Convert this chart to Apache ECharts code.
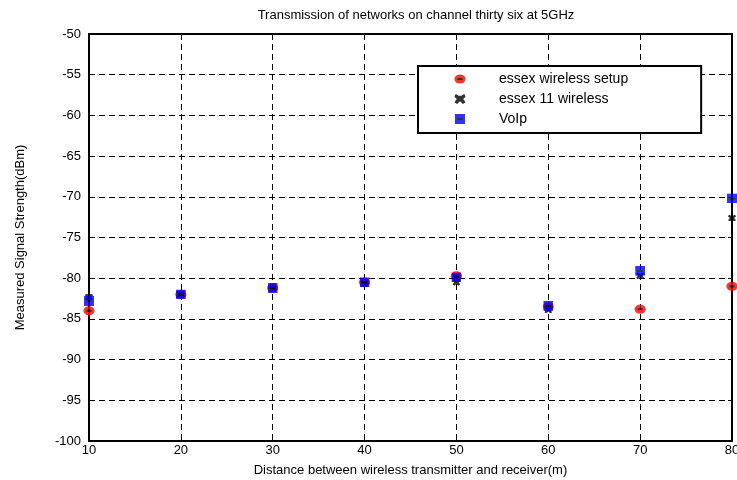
<!DOCTYPE html>
<html>
<head>
<meta charset="utf-8">
<script src="https://cdn.jsdelivr.net/npm/echarts@6/dist/echarts.min.js"></script>
<style>html,body{margin:0;padding:0;background:#fff;}#c{width:737px;height:480px;}</style>
</head>
<body>
<div id="c"></div>
<script>
// ---- data ----
const distances = [10, 20, 30, 40, 50, 60, 70, 80];
const essexWirelessSetup = [-84.0, -82.0, -81.2, -80.5, -79.7, -83.5, -83.8, -81.0];
const essex11Wireless   = [-82.3, -82.0, -81.2, -80.7, -80.5, -83.9, -79.7, -72.6];
const voip              = [-82.8, -82.0, -81.2, -80.5, -79.9, -83.4, -79.1, -70.2];
const seriesNames = ['essex wireless setup', 'essex 11 wireless', 'VoIp'];
const titleText = 'Transmission of networks on channel thirty six at 5GHz';
const xName = 'Distance between wireless transmitter and receiver(m)';
const yName = 'Measured Signal Strength(dBm)';

function svgSym(svg) {
  return 'image://data:image/svg+xml;charset=utf-8,' + encodeURIComponent(svg);
}
const redSym = svgSym('<svg xmlns="http://www.w3.org/2000/svg" width="12" height="10" viewBox="0 0 12 10"><ellipse cx="6" cy="5" rx="5.6" ry="4.6" fill="#ff0000"/><rect x="3.5" y="4" width="5" height="2" fill="#000"/></svg>');
const blueSym = svgSym('<svg xmlns="http://www.w3.org/2000/svg" width="10" height="10" viewBox="0 0 10 10"><rect x="0" y="0" width="10" height="10" fill="#0000ff"/><rect x="2.5" y="4" width="5" height="2" fill="#000"/></svg>');
const blackSym = svgSym('<svg xmlns="http://www.w3.org/2000/svg" width="8" height="7" viewBox="0 0 8 7"><path d="M1,0 L3,1.2 L5,1.2 L7,0 L8,2 L6.2,3.5 L8,5.8 L6,7 L4,5 L2,7 L0,5.8 L1.8,3.5 L0,2 Z" fill="#000"/></svg>');

const font = 'Liberation Sans, Arial, sans-serif';
const chart = echarts.init(document.getElementById('c'), null, {renderer: 'canvas'});
const toPairs = arr => distances.map((d, i) => [d, arr[i]]);

const dash = [6, 4];
chart.setOption({
  animation: false,
  backgroundColor: '#fff',
  title: {
    text: titleText, left: 411, top: 4, textAlign: 'center',
    textStyle: {fontFamily: font, fontSize: 13, fontWeight: 'normal', color: '#000'}
  },
  grid: {left: 89, right: 5, top: 34, bottom: 39, show: false, containLabel: false, outerBoundsMode: 'none'},
  legend: {
    orient: 'vertical', left: 418, top: 66,
    padding: [6, 73, 7, 36], itemGap: 6, itemWidth: 12, itemHeight: 10,
    borderColor: '#000', borderWidth: 2, backgroundColor: '#fff',
    textStyle: {fontFamily: font, fontSize: 14, color: '#000', padding: [0, 0, 0, 28]},
    data: [
      {name: seriesNames[0], icon: redSym},
      {name: seriesNames[1], icon: blackSym},
      {name: seriesNames[2], icon: blueSym}
    ]
  },
  xAxis: [{
    type: 'value', min: 10, max: 80, interval: 10, position: 'bottom',
    name: xName, nameLocation: 'middle', nameGap: 23,
    nameTextStyle: {fontFamily: font, fontSize: 13, color: '#000'},
    axisLine: {show: true, onZero: false, lineStyle: {color: '#000', width: 2}},
    axisTick: {show: true, inside: true, length: 4, lineStyle: {color: '#000'}},
    axisLabel: {fontFamily: font, fontSize: 13, color: '#000', margin: 3},
    splitLine: {show: true, lineStyle: {color: '#000', type: dash, width: 1}}
  }, {
    type: 'value', min: 10, max: 80, interval: 10, position: 'top',
    axisLine: {show: true, onZero: false, lineStyle: {color: '#000', width: 2}},
    axisTick: {show: true, inside: true, length: 4, lineStyle: {color: '#000'}},
    axisLabel: {show: false}, splitLine: {show: false}
  }],
  yAxis: [{
    type: 'value', min: -100, max: -50, interval: 5, position: 'left',
    name: yName, nameLocation: 'middle', nameGap: 62, nameRotate: 90,
    nameTextStyle: {fontFamily: font, fontSize: 13, color: '#000'},
    axisLine: {show: true, onZero: false, lineStyle: {color: '#000', width: 2}},
    axisTick: {show: true, inside: true, length: 4, lineStyle: {color: '#000'}},
    axisLabel: {fontFamily: font, fontSize: 13, color: '#000', margin: 8},
    splitLine: {show: true, lineStyle: {color: '#000', type: dash, width: 1}}
  }, {
    type: 'value', min: -100, max: -50, interval: 5, position: 'right',
    axisLine: {show: true, onZero: false, lineStyle: {color: '#000', width: 2}},
    axisTick: {show: true, inside: true, length: 4, lineStyle: {color: '#000'}},
    axisLabel: {show: false}, splitLine: {show: false}
  }],
  series: [
    {name: seriesNames[0], type: 'scatter', symbol: redSym, symbolSize: [12, 10], data: toPairs(essexWirelessSetup), z: 3},
    {name: seriesNames[1], type: 'scatter', symbol: blackSym, symbolSize: [8, 7], data: toPairs(essex11Wireless), z: 4},
    {name: seriesNames[2], type: 'scatter', symbol: blueSym, symbolSize: [10, 10], data: toPairs(voip), z: 5}
  ]
});
</script>
</body>
</html>
